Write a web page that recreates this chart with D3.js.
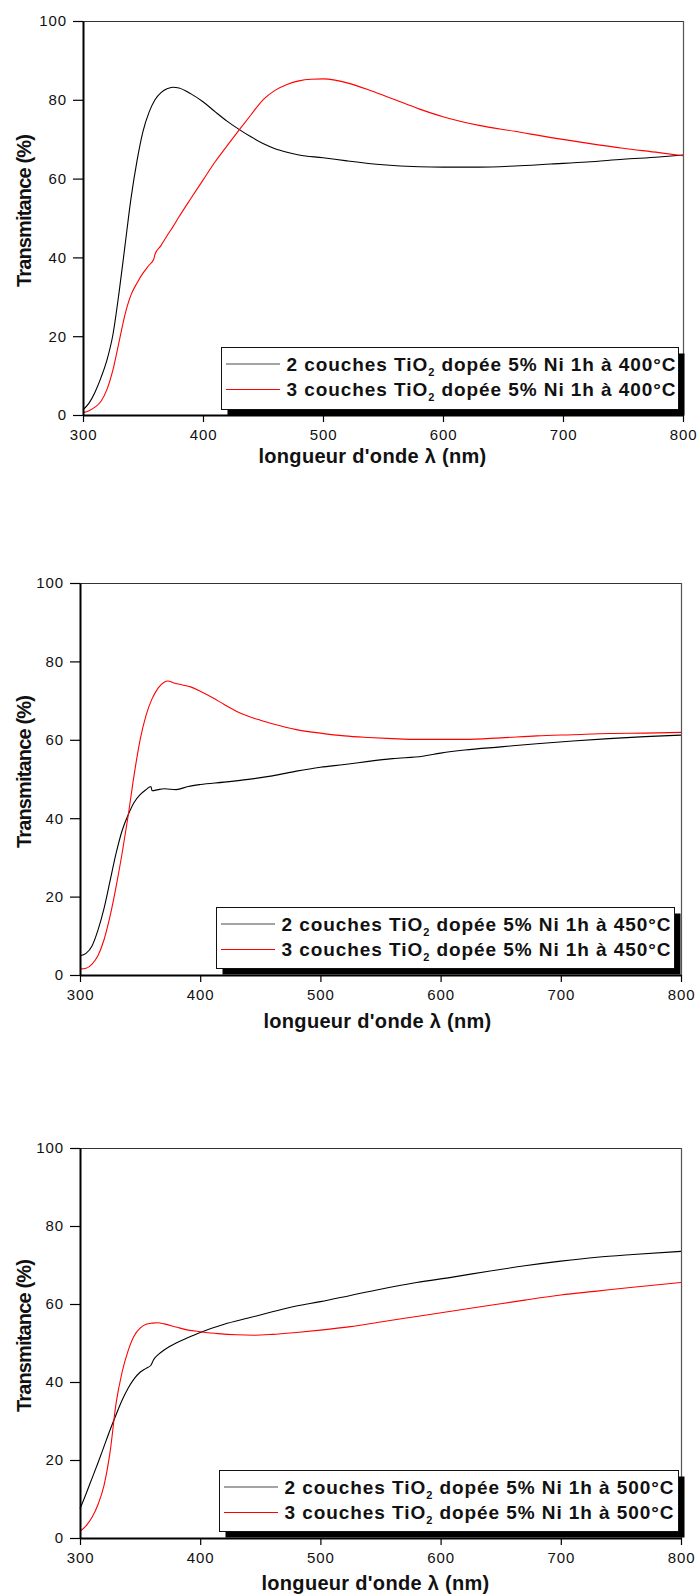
<!DOCTYPE html>
<html>
<head>
<meta charset="utf-8">
<script src="https://cdn.jsdelivr.net/npm/d3@7"></script>
<style>
  body { margin: 0; background: #fff; }
  svg { display: block; }
  text { font-family: "Liberation Sans", Arial, sans-serif; fill: #111; }
</style>
</head>
<body>
<svg id="fig" width="700" height="1595"></svg>
<script>
// ---- Transmittance spectra, TiO2 films doped 5% Ni, annealed 1 h ----

// 400 °C, 2 layers
const wl400a = [300,305,310,315,320,325,330,335,340,345,350,355,360,365,370,375,380,390,400,410,420,430,440,450,460,470,480,500,520,550,580,600,630,660,690,720,750,780,800];
const tr400a = [1.3,3,5.8,9.5,14,20.5,31,43,55,64.5,72,76.8,80,81.8,82.8,83.2,83,81.5,79.5,77,74.6,72.5,70.6,68.9,67.6,66.7,66,65.3,64.5,63.5,63,62.9,62.9,63.2,63.7,64.2,64.9,65.5,66];
// 400 °C, 3 layers
const wl400b = [300,305,310,315,320,325,330,335,340,345,350,355,359,360,365,370,375,380,390,400,410,420,430,440,450,460,470,480,490,500,510,520,540,560,580,600,630,660,690,720,750,780,800];
const tr400b = [0.6,1.1,2,3.5,6.5,11.5,18.5,25.5,30.5,33.5,36,38,39.6,40.8,43,45.5,47.8,50.3,55,59.6,64.2,68.3,72.3,76.2,80,82.4,83.9,84.8,85.2,85.3,85,84.3,82.3,80,77.7,75.7,73.5,72,70.4,69,67.7,66.6,65.8];

// 450 °C, 2 layers
const wl450a = [300,305,310,315,320,325,330,335,340,345,350,355,359,360,365,370,380,390,400,420,440,460,480,500,520,540,560,585,600,620,650,680,710,740,770,800];
const tr450a = [4.9,5.5,7.4,11.5,17,24,31,36.8,40.8,44,46,47.3,48.1,47,47.3,47.5,47.3,48.1,48.6,49.2,49.9,50.8,52,53,53.7,54.5,55.2,55.8,56.6,57.4,58.2,59,59.7,60.3,60.8,61.2];
// 450 °C, 3 layers
const wl450b = [300,305,310,315,320,325,330,335,340,345,350,355,360,365,370,373,378,385,392,400,410,420,430,440,450,460,480,500,520,540,560,580,600,620,650,680,710,740,770,800];
const tr450b = [1.5,1.7,2.8,5,9,15,22.5,31,40.5,51,60,66.3,70.5,73.2,74.7,75,74.5,74,73.5,72.4,70.8,69,67.3,66,65,64.1,62.6,61.7,61,60.6,60.3,60.1,60.1,60.1,60.5,61,61.3,61.6,61.7,61.9];

// 500 °C, 2 layers
const wl500a = [300,305,310,315,320,325,330,335,340,345,350,355,359,361,365,370,380,390,400,420,440,460,480,500,525,550,580,610,640,670,700,730,760,800];
const tr500a = [7.5,11.3,15.3,19.3,23.5,27.7,31.6,35.3,38.4,40.8,42.5,43.5,44.3,45.6,47,48.2,50,51.4,52.7,54.8,56.4,58,59.5,60.6,62.2,63.8,65.5,66.9,68.4,69.8,71,72,72.7,73.5];
// 500 °C, 3 layers
const wl500b = [300,305,310,315,320,325,330,335,340,345,350,355,360,365,370,380,390,400,415,430,445,460,480,500,525,550,580,610,640,670,700,730,760,800];
const tr500b = [1.7,3.1,5.3,8.6,13.5,22,34.5,42.5,48,51.8,53.8,54.8,55.1,55.2,54.9,54.1,53.3,52.9,52.4,52.1,52,52.2,52.7,53.3,54.2,55.4,56.8,58.2,59.6,61,62.3,63.3,64.3,65.5];

// Axis ticks and labels
const xMajor = [300,400,500,600,700,800];
const xMinor = [350,450,550,650,750];
const yMajor = [0,20,40,60,80,100];
const yMinor = [10,30,50,70,90];
const xTitle = "longueur d'onde λ (nm)";
const yTitle = "Transmitance (%)";
const layerLabels = ["2 couches TiO", "3 couches TiO"];
const temperatures = ["400", "450", "500"];
const seriesColors = ["#000000", "#ff0000"];
const legendSwatch = ["#4a4a4a", "#ff0000"];

// Panel geometry
const panels = [
  { x0: 83, x1: 683, y0: 21,   y1: 415,  xt: 372.5, xtb: 462.5, data: [[wl400a, tr400a], [wl400b, tr400b]],
    leg: { x: 221, y: 347,  w: 457, h: 62 } },
  { x0: 80, x1: 681, y0: 583,  y1: 975,  xt: 377.5, xtb: 1028,  data: [[wl450a, tr450a], [wl450b, tr450b]],
    leg: { x: 216, y: 907,  w: 458, h: 61 } },
  { x0: 80, x1: 681, y0: 1148, y1: 1538, xt: 375.5, xtb: 1590,  data: [[wl500a, tr500a], [wl500b, tr500b]],
    leg: { x: 219, y: 1470, w: 459, h: 61 } }
];

const svg = d3.select("#fig");

// spread characters so a text run spans the requested width
function fitWidth(sel, target) {
  const node = sel.node();
  const natural = node.getComputedTextLength();
  const n = node.textContent.length;
  sel.attr("letter-spacing", ((target - natural) / n).toFixed(3) + "px");
}

panels.forEach((p, i) => {
  const g = svg.append("g");
  const x = d3.scaleLinear().domain([300, 800]).range([p.x0, p.x1]);
  const y = d3.scaleLinear().domain([0, 100]).range([p.y1, p.y0]);

  // top and right frame lines
  g.append("line").attr("x1", p.x0).attr("x2", p.x1).attr("y1", p.y0 + 0.5).attr("y2", p.y0 + 0.5)
    .attr("stroke", "#333").attr("stroke-width", 1);
  g.append("line").attr("x1", p.x1 + 0.5).attr("x2", p.x1 + 0.5).attr("y1", p.y0).attr("y2", p.y1)
    .attr("stroke", "#555").attr("stroke-width", 1.2);

  // curves
  const line = d3.line().curve(d3.curveMonotoneX).x(d => x(d[0])).y(d => y(d[1]));
  p.data.forEach((s, k) => {
    const pts = s[0].map((w, j) => [w, s[1][j]]);
    g.append("path").datum(pts).attr("d", line)
      .attr("fill", "none").attr("stroke", seriesColors[k]).attr("stroke-width", 1.1);
  });

  // legend with drop shadow
  const L = p.leg;
  const lg = g.append("g");
  lg.append("rect").attr("x", L.x + 6.5).attr("y", L.y + 6.5).attr("width", L.w).attr("height", L.h).attr("fill", "#000");
  lg.append("rect").attr("x", L.x + 0.5).attr("y", L.y + 0.5).attr("width", L.w).attr("height", L.h)
    .attr("fill", "#fff").attr("stroke", "#111").attr("stroke-width", 1);
  layerLabels.forEach((lab, k) => {
    const ly = L.y + (k === 0 ? 17 : 42.5);
    lg.append("line").attr("x1", L.x + 5).attr("x2", L.x + 59).attr("y1", ly).attr("y2", ly)
      .attr("stroke", legendSwatch[k]).attr("stroke-width", 1.2);
    const t = lg.append("text").attr("x", L.x + 65.5).attr("y", L.y + (k === 0 ? 24 : 48.5))
      .attr("font-size", 19).attr("font-weight", "bold");
    t.append("tspan").text(lab);
    t.append("tspan").attr("font-size", 11).attr("dy", 5).text("2");
    t.append("tspan").attr("dy", -5).text(" dopée 5% Ni 1h à " + temperatures[i] + "°C");
    fitWidth(t, 390);
  });

  // left axis
  const ax = g.append("g").attr("transform", `translate(${p.x0},0)`);
  ax.call(d3.axisLeft(y).tickValues(yMinor).tickSize(5).tickFormat(""));
  ax.call(d3.axisLeft(y).tickValues(yMajor).tickSize(10).tickSizeOuter(0).tickPadding(6));
  ax.selectAll("text").attr("font-size", 15).attr("font-family", "Liberation Sans, Arial, sans-serif")
    .attr("letter-spacing", "0.9px").attr("fill", "#111");
  ax.selectAll("path.domain").attr("stroke-width", 2).attr("stroke", "#000");
  ax.selectAll(".tick line").attr("stroke-width", 1.2);

  // bottom axis
  const bx = g.append("g").attr("transform", `translate(0,${p.y1})`);
  bx.call(d3.axisBottom(x).tickValues(xMinor).tickSize(3).tickFormat(""));
  bx.call(d3.axisBottom(x).tickValues(xMajor).tickSize(7).tickSizeOuter(0).tickPadding(7.5));
  bx.selectAll("text").attr("font-size", 15).attr("font-family", "Liberation Sans, Arial, sans-serif")
    .attr("letter-spacing", "0.9px").attr("fill", "#111");
  bx.selectAll("path.domain").attr("stroke-width", 2).attr("stroke", "#000");
  bx.selectAll(".tick line").attr("stroke-width", 1.2);

  // axis titles
  const xt = g.append("text").attr("x", p.xt).attr("y", p.xtb).attr("text-anchor", "middle")
    .attr("font-size", 20).attr("font-weight", "bold").text(xTitle);
  fitWidth(xt, 228);
  const cy = (p.y0 + p.y1) / 2 - 7;
  const yt = g.append("text").attr("transform", `translate(31,${cy}) rotate(-90)`).attr("text-anchor", "middle")
    .attr("font-size", 20).attr("font-weight", "bold").text(yTitle);
  fitWidth(yt, 152);
});
</script>
</body>
</html>
